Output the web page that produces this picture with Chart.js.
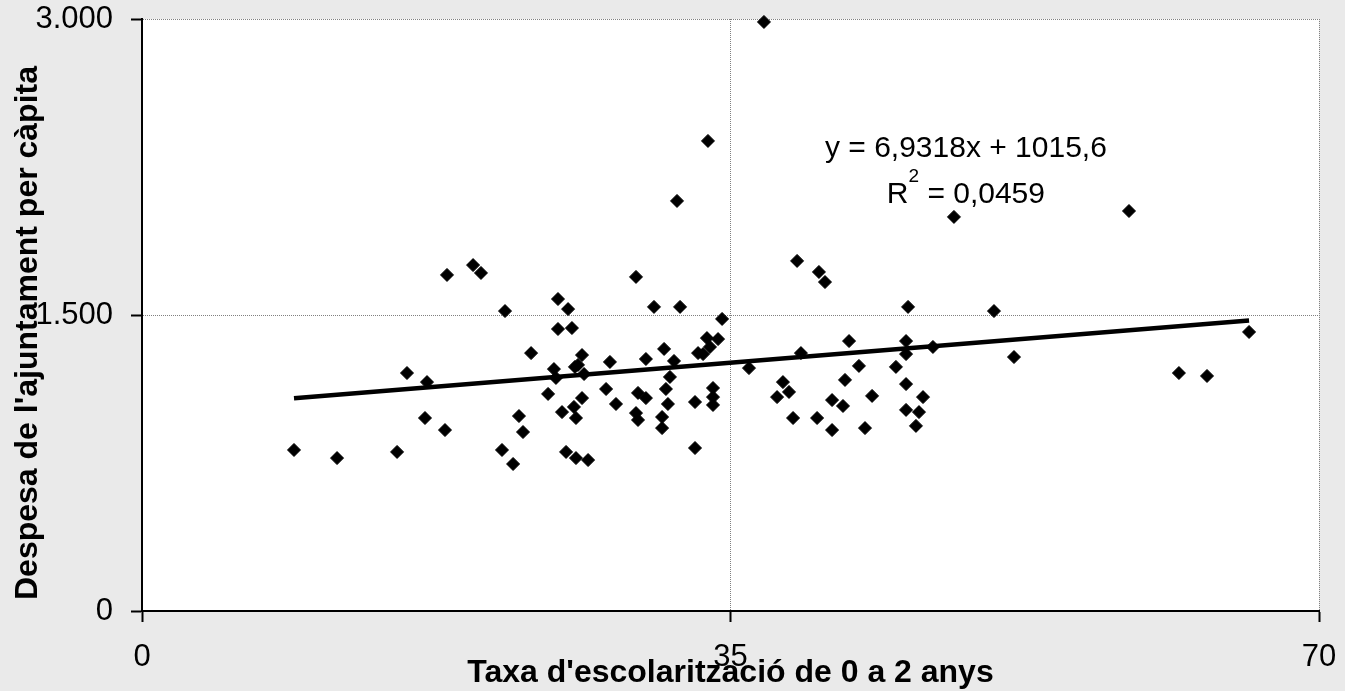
<!DOCTYPE html>
<html>
<head>
<meta charset="utf-8">
<script src="https://cdn.jsdelivr.net/npm/chart.js@4.4.0/dist/chart.umd.min.js"></script>
<style>
  html, body { margin: 0; padding: 0; background: #eaeaea; }
  #wrap { width: 1345px; height: 691px; }
</style>
</head>
<body>
<div id="wrap"><canvas id="chart" width="1345" height="691"></canvas></div>
<script>
// Taxa d'escolarització 0-2 anys (%) i despesa per càpita, un punt per municipi
const taxaEscolaritzacio = [
  9.04, 11.6, 15.17, 15.76, 16.83, 16.95, 18.02, 18.14, 19.69, 20.16,
  21.41, 21.59, 22.07, 22.42, 22.66, 23.14, 24.15, 24.5, 24.62, 24.74,
  24.74, 24.98, 25.22, 25.34, 25.57, 25.69, 25.75, 25.81, 25.81, 25.93,
  26.17, 26.17, 26.29, 26.53, 27.6, 27.83, 28.19, 29.38, 29.38, 29.5,
  29.5, 29.97, 29.97, 30.45, 30.93, 30.93, 31.05, 31.16, 31.28, 31.4,
  31.64, 31.82, 32.0, 32.89, 32.89, 33.07, 33.37, 33.6, 33.66, 33.78,
  33.96, 33.96, 33.96, 34.26, 34.5, 36.1, 36.99, 37.77, 38.12, 38.48,
  38.72, 38.96, 39.19, 40.15, 40.26, 40.62, 41.04, 41.04, 41.69, 41.81,
  42.05, 42.64, 43.0, 43.42, 44.84, 45.44, 45.44, 45.44, 45.44, 45.56,
  46.03, 46.21, 46.45, 47.04, 48.29, 50.67, 51.86, 58.7, 61.67, 63.34,
  65.84
];
const despesaPerCapita = [
  816, 775, 806, 1206, 978, 1160, 917, 1703, 1753, 1713,
  816, 1520, 745, 988, 907, 1307, 1100, 1226, 1181, 1581,
  1429, 1008, 806, 1530, 1434, 1034, 1237, 978, 775, 1247,
  1297, 1079, 1201, 765, 1125, 1262, 1049, 1693, 1003, 1105,
  968, 1079, 1277, 1541, 983, 927, 1328, 1125, 1049, 1186,
  1267, 2078, 1541, 1059, 826, 1307, 1302, 1383, 2382, 1338,
  1130, 1084, 1044, 1378, 1480, 1231, 2985, 1084, 1160, 1110,
  978, 1774, 1307, 978, 1718, 1667, 1069, 917, 1039, 1171,
  1368, 1242, 927, 1090, 1237, 1368, 1302, 1150, 1019, 1541,
  938, 1008, 1084, 1338, 1997, 1520, 1287, 2027, 1206, 1191,
  1414
];

const xTicks = [0, 35, 70];
const yTicks = [0, 1500, 3000];
const yTickLabels = ['0', '1.500', '3.000'];

// linia de tendència (lineal)
const trendX = [9.04, 65.84];
const trendY = [1078, 1472];
const trendEquation = 'y = 6,9318x + 1015,6';
const trendR2 = '0,0459';

const xTitle = "Taxa d'escolarització de 0 a 2 anys";
const yTitle = "Despesa de l'ajuntament per càpita";

const FONT = '"Liberation Sans", Arial, sans-serif';
const gridColor = '#808080';

const points = taxaEscolaritzacio.map((x, i) => ({ x: x, y: despesaPerCapita[i] }));
const trendPoints = trendX.map((x, i) => ({ x: x, y: trendY[i] }));

const plotBackground = {
  id: 'plotBackground',
  beforeDraw(chart) {
    const { ctx, chartArea } = chart;
    ctx.save();
    ctx.fillStyle = '#ffffff';
    ctx.fillRect(chartArea.left, chartArea.top, chartArea.right - chartArea.left, chartArea.bottom - chartArea.top);
    ctx.restore();
  }
};

const extraText = {
  id: 'extraText',
  afterDraw(chart) {
    const { ctx, chartArea } = chart;
    const xs = chart.scales.x, ys = chart.scales.y;
    ctx.save();
    ctx.fillStyle = '#000';

    // títol de l'eix vertical
    ctx.save();
    ctx.translate(37, (chartArea.top + chartArea.bottom) / 2 + 18);
    ctx.rotate(-Math.PI / 2);
    ctx.font = 'bold 32px ' + FONT;
    ctx.textAlign = 'center';
    ctx.textBaseline = 'alphabetic';
    ctx.fillText(yTitle, 0, 0);
    ctx.restore();

    // equació de la tendència, centrada
    const cx = xs.getPixelForValue(49.0);
    ctx.textBaseline = 'alphabetic';
    ctx.textAlign = 'center';
    ctx.font = '30px ' + FONT;
    ctx.fillText(trendEquation, cx, ys.getPixelForValue(2300));

    const base2 = ys.getPixelForValue(2070);
    const rest = ' = ' + trendR2;
    const wR = ctx.measureText('R').width;
    const wRest = ctx.measureText(rest).width;
    ctx.font = '19px ' + FONT;
    const wSup = ctx.measureText('2').width;
    const start = cx - (wR + wSup + wRest) / 2;
    ctx.textAlign = 'left';
    ctx.fillText('2', start + wR, base2 - 21);
    ctx.font = '30px ' + FONT;
    ctx.fillText('R', start, base2);
    ctx.fillText(rest, start + wR + wSup, base2);
    ctx.restore();
  }
};

new Chart(document.getElementById('chart'), {
  type: 'scatter',
  data: {
    datasets: [
      {
        type: 'line',
        data: trendPoints,
        borderColor: '#000',
        borderWidth: 4.5,
        pointRadius: 0,
        fill: false,
        order: 0
      },
      {
        data: points,
        pointStyle: 'rectRot',
        pointRadius: 6.5,
        pointHoverRadius: 6.5,
        backgroundColor: '#000',
        borderColor: '#000',
        borderWidth: 1,
        clip: false,
        order: 1
      }
    ]
  },
  plugins: [plotBackground, extraText],
  options: {
    responsive: false,
    animation: false,
    events: [],
    layout: { padding: { top: 19, right: 26, left: 0, bottom: 0 } },
    plugins: {
      legend: { display: false },
      tooltip: { enabled: false }
    },
    scales: {
      x: {
        type: 'linear',
        min: 0,
        max: 70,
        afterBuildTicks: function(scale) {
          scale.ticks = xTicks.map(v => ({ value: v }));
        },
        afterFit: function(scale) {
          scale.height = 80;
          scale.paddingLeft = 0;
          scale.paddingRight = 0;
        },
        grid: {
          color: ctx => (ctx.tick && ctx.tick.value === 0) ? 'rgba(0,0,0,0)' : gridColor,
          lineWidth: 1,
          tickLength: 11,
          tickColor: '#000',
          tickWidth: 2
        },
        border: { color: '#000', width: 2, dash: [1, 1] },
        ticks: {
          color: '#000',
          font: { family: FONT, size: 31 },
          padding: 17,
          maxRotation: 0,
          autoSkip: false
        },
        title: {
          display: true,
          text: xTitle,
          color: '#000',
          font: { family: FONT, size: 32, weight: 'bold', lineHeight: 1.1 },
          padding: 0
        }
      },
      y: {
        type: 'linear',
        min: 0,
        max: 3000,
        afterBuildTicks: function(scale) {
          scale.ticks = yTicks.map(v => ({ value: v }));
        },
        afterFit: function(scale) {
          scale.width = 142;
          scale.paddingTop = 0;
          scale.paddingBottom = 0;
        },
        grid: {
          color: ctx => (ctx.tick && ctx.tick.value === 0) ? 'rgba(0,0,0,0)' : gridColor,
          lineWidth: 1,
          tickLength: 11,
          tickColor: '#000',
          tickWidth: 2
        },
        border: { color: '#000', width: 2, dash: [1, 1] },
        ticks: {
          color: '#000',
          font: { family: FONT, size: 31 },
          padding: 18,
          callback: function(value, index) {
            return yTickLabels[index];
          }
        }
      }
    }
  }
});
</script>
</body>
</html>
